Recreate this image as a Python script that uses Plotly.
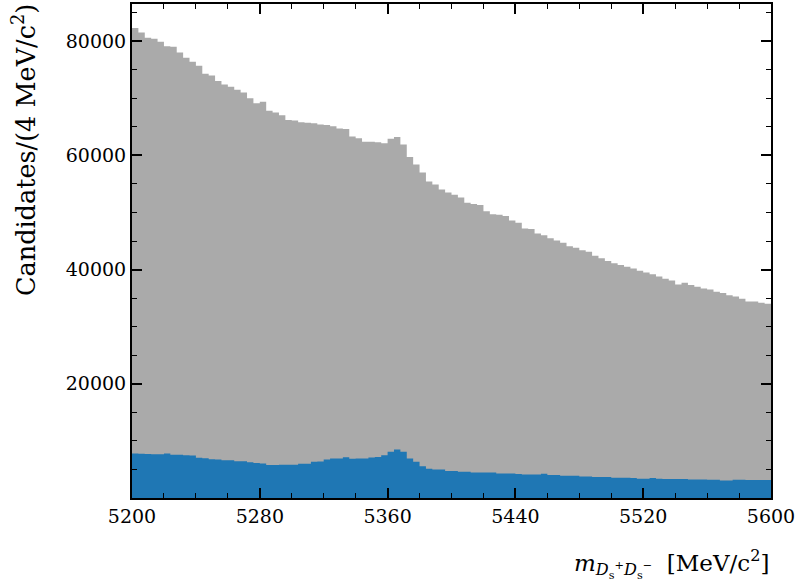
import numpy as np
import plotly.graph_objects as go

# 100 bins of 4 MeV from 5200 to 5600
bin_lo = 5200
bin_width = 4
n_bins = 100

# total candidates per bin (top of grey histogram)
total = [82300, 81500, 80600, 80400, 79900, 79100, 79000, 78000, 77100, 76400,
         75700, 74300, 74000, 73000, 72400, 72000, 71500, 71000, 70000, 69100,
         69400, 67800, 67500, 67000, 66200, 66100, 65800, 65700, 65600, 65400,
         65300, 65100, 64700, 64600, 63300, 63000, 62400, 62400, 62300, 62100,
         62900, 63200, 61900, 59700, 58400, 57000, 55400, 54900, 54000, 53500,
         53100, 52600, 51700, 51500, 51300, 50200, 49700, 49600, 49400, 48600,
         48200, 47200, 47100, 46300, 46000, 45500, 45100, 44700, 44100, 43800,
         43400, 43100, 42400, 42000, 41500, 41100, 40800, 40500, 40200, 39800,
         39500, 39200, 38800, 38400, 38100, 37400, 37700, 37300, 37000, 36700,
         36500, 36100, 35900, 35500, 35300, 34900, 34400, 34400, 34200, 34000]

# blue component per bin
blue = [7800, 7750, 7700, 7670, 7670, 7790, 7560, 7560, 7500, 7440,
        7040, 6950, 6800, 6750, 6630, 6600, 6450, 6420, 6280, 6150,
        6050, 5760, 5760, 5810, 5810, 5810, 5990, 6000, 6340, 6400,
        6740, 6920, 6920, 7150, 6860, 6920, 6920, 7090, 7200, 7500,
        8080, 8490, 8080, 6920, 6340, 5580, 5120, 5000, 5000, 4710,
        4710, 4590, 4590, 4480, 4480, 4480, 4450, 4300, 4300, 4280,
        4190, 4130, 4130, 4100, 4240, 4010, 4010, 3900, 3900, 3880,
        3780, 3780, 3660, 3660, 3660, 3550, 3550, 3550, 3520, 3370,
        3370, 3490, 3370, 3310, 3310, 3310, 3310, 3260, 3260, 3260,
        3200, 3200, 3080, 3080, 3200, 3200, 3140, 3140, 3140, 3140]

x_ticks = [5200, 5280, 5360, 5440, 5520, 5600]
x_ticklabels = ["5200", "5280", "5360", "5440", "5520", "5600"]
y_ticks = [20000, 40000, 60000, 80000]
y_ticklabels = ["20000", "40000", "60000", "80000"]

edges = bin_lo + bin_width * np.arange(n_bins + 1)

fig = go.Figure()
fig.add_trace(go.Scatter(
    x=edges, y=list(total) + [total[-1]], mode="lines", line_shape="hv",
    line=dict(width=0, color="#aaaaaa"), fill="tozeroy", fillcolor="#aaaaaa",
    hoverinfo="skip", showlegend=False))
fig.add_trace(go.Scatter(
    x=edges, y=list(blue) + [blue[-1]], mode="lines", line_shape="hv",
    line=dict(width=0, color="#1f77b4"), fill="tozeroy", fillcolor="#1f77b4",
    hoverinfo="skip", showlegend=False))

tick_family = "DejaVu Serif"
title_family = "DejaVu Serif"

axis_common = dict(
    showline=True, linecolor="black", linewidth=2, mirror="allticks",
    ticks="inside", ticklen=10, tickwidth=1.5, tickcolor="black",
    showgrid=False, zeroline=False,
    tickfont=dict(family=tick_family, size=19, color="black"),
)

fig.update_xaxes(range=[5200, 5600], tickvals=x_ticks, ticktext=x_ticklabels,
                 minor=dict(dtick=20, tick0=5200, ticks="inside", ticklen=5,
                            tickwidth=1.2, tickcolor="black"),
                 **axis_common)
fig.update_yaxes(range=[0, 86500], tickvals=y_ticks, ticktext=y_ticklabels,
                 minor=dict(dtick=5000, tick0=0, ticks="inside", ticklen=5,
                            tickwidth=1.2, tickcolor="black"),
                 **axis_common)

fig.add_annotation(
    text="<i>m</i><sub><i>D</i><sub>s</sub><sup>+</sup><i>D</i><sub>s</sub><sup>−</sup></sub>  [MeV/c<sup>2</sup>]",
    xref="paper", yref="paper", x=1, y=0, xanchor="right", yanchor="top",
    yshift=-46, showarrow=False,
    font=dict(family=title_family, size=23, color="black"))
fig.add_annotation(
    text="Candidates/(4 MeV/c<sup>2</sup>)",
    xref="paper", yref="paper", x=0, y=1, xanchor="right", yanchor="top",
    xshift=-89, yshift=2, showarrow=False, textangle=-90,
    font=dict(family=title_family, size=25.5, color="black"))

fig.update_layout(
    width=801, height=586,
    margin=dict(l=132, r=30, t=2, b=88),
    paper_bgcolor="white", plot_bgcolor="white",
    font=dict(family=tick_family, color="black"),
)

fig.write_html("out.html")
